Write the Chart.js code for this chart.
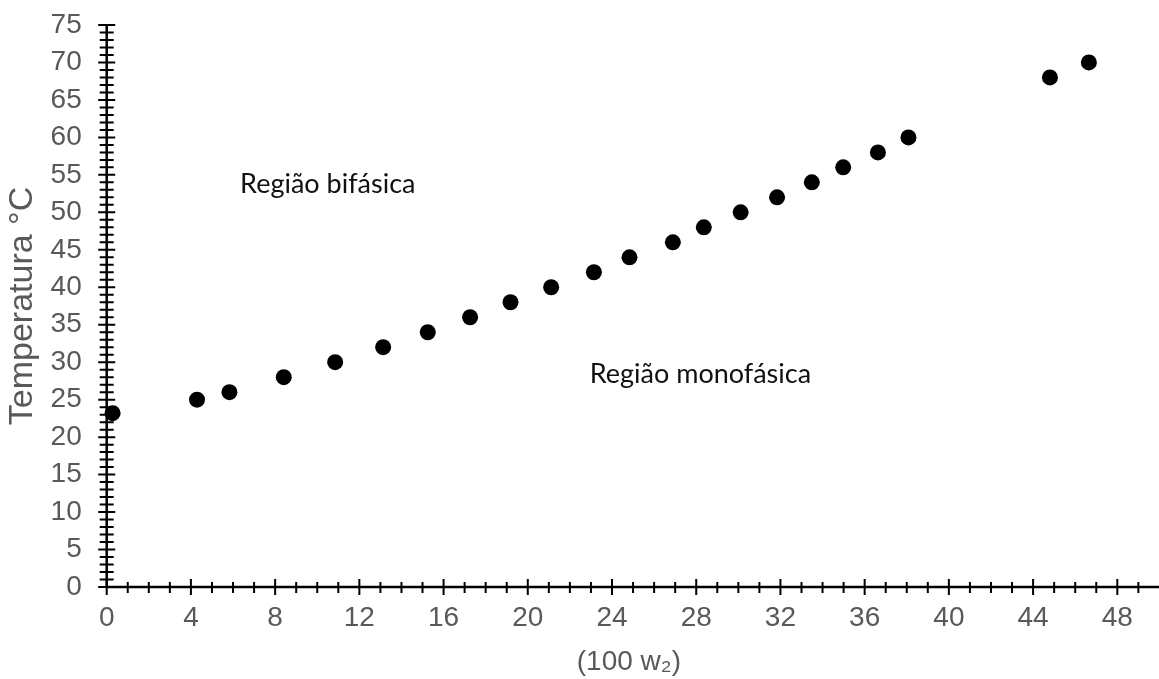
<!DOCTYPE html>
<html>
<head>
<meta charset="utf-8">
<script src="https://cdn.jsdelivr.net/npm/chart.js@4"></script>
<style>
  html, body { margin: 0; padding: 0; background: #fff; overflow: hidden; }
  #wrap { width: 1159px; height: 679px; position: relative; }
</style>
</head>
<body>
<div id="wrap"><canvas id="chart"></canvas></div>
<script>
// composition (100 w2) and temperature of the phase boundary
const composition = [0.28, 4.29, 5.83, 8.41, 10.85, 13.13, 15.25, 17.26, 19.18, 21.11, 23.14,
                     24.83, 26.89, 28.36, 30.11, 31.84, 33.49, 34.98, 36.63, 38.08, 44.8, 46.65];
const temperature = [23.2, 25, 26, 28, 30, 32, 34, 36, 38, 40, 42,
                     44, 46, 48, 50, 52, 54, 56, 58, 60, 68, 70];

const xTicks = [0, 4, 8, 12, 16, 20, 24, 28, 32, 36, 40, 44, 48];
const yTicks = [0, 5, 10, 15, 20, 25, 30, 35, 40, 45, 50, 55, 60, 65, 70, 75];

const regionLabels = [
    { text: 'Região bifásica', x: 10.5, y: 52.6 },
    { text: 'Região monofásica', x: 28.2, y: 27.2 }
];

const tickFont = { family: '"Liberation Sans", Arial, sans-serif', size: 28 };
const grey = '#595959';

// axes drawn by hand so tick marks cross the axis line (minor every 1 unit)
const crossAxes = {
    id: 'crossAxes',
    beforeDatasetsDraw(chart) {
        const { ctx, scales: { x, y } } = chart;
        const x0 = x.getPixelForValue(0);
        const y0 = y.getPixelForValue(0);
        ctx.save();
        ctx.strokeStyle = '#000';
        ctx.lineWidth = 2.5;
        ctx.beginPath();
        ctx.moveTo(x0, y.getPixelForValue(75));
        ctx.lineTo(x0, y0);
        ctx.moveTo(x0, y0);
        ctx.lineTo(chart.width, y0);
        ctx.stroke();

        ctx.lineWidth = 2;
        ctx.beginPath();
        for (let v = 0; v <= 75; v++) {
            const py = y.getPixelForValue(v);
            const half = v % 5 === 0 ? 8.5 : 7;
            ctx.moveTo(x0 - half, py);
            ctx.lineTo(x0 + half, py);
        }
        for (let v = 0; v <= Math.floor(x.max); v++) {
            const px = x.getPixelForValue(v);
            const up = v % 4 === 0 ? 8 : 5;
            const down = v % 4 === 0 ? 8 : 6;
            ctx.moveTo(px, y0 - up);
            ctx.lineTo(px, y0 + down);
        }
        ctx.stroke();
        ctx.restore();
    },
    afterDatasetsDraw(chart) {
        const { ctx, scales: { x, y } } = chart;
        ctx.save();
        ctx.fillStyle = '#111';
        ctx.font = '27px Lato, "Noto Sans", sans-serif';
        ctx.textAlign = 'center';
        ctx.textBaseline = 'alphabetic';
        regionLabels.forEach(l => {
            ctx.fillText(l.text, x.getPixelForValue(l.x), y.getPixelForValue(l.y));
        });
        ctx.restore();
    }
};

new Chart(document.getElementById('chart'), {
    type: 'scatter',
    data: {
        datasets: [{
            data: composition.map((c, i) => ({ x: c, y: temperature[i] })),
            backgroundColor: '#000',
            borderColor: '#000',
            borderWidth: 0,
            pointRadius: 8,
            pointHoverRadius: 8,
            clip: false
        }]
    },
    options: {
        responsive: true,
        maintainAspectRatio: false,
        animation: false,
        layout: { padding: { top: 25, right: 0, left: 0, bottom: 0 } },
        plugins: {
            legend: { display: false },
            tooltip: { enabled: false }
        },
        scales: {
            x: {
                type: 'linear',
                min: 0,
                max: 49.6,
                afterBuildTicks: s => { s.ticks = xTicks.map(v => ({ value: v })); },
                afterFit: s => { s.height = 92; },
                grid: { display: false, drawTicks: false },
                border: { display: false },
                ticks: { font: tickFont, color: grey, padding: 14, maxRotation: 0, autoSkip: false },
                title: {
                    display: true,
                    text: '(100 w₂)',
                    color: grey,
                    font: { family: '"Liberation Sans", Arial, "DejaVu Sans", sans-serif', size: 28 },
                    padding: 0
                }
            },
            y: {
                type: 'linear',
                min: 0,
                max: 75,
                afterBuildTicks: s => { s.ticks = yTicks.map(v => ({ value: v })); },
                afterFit: s => {
                    s.width = 106.7;
                    // the 75 label may overhang the top; keep the plot top fixed
                    s.paddingTop = 0;
                    s.paddingBottom = 0;
                },
                grid: { display: false, drawTicks: false },
                border: { display: false },
                ticks: { font: tickFont, color: grey, padding: 25, autoSkip: false },
                title: {
                    display: true,
                    text: 'Temperatura °C',
                    color: grey,
                    font: { family: '"Liberation Sans", Arial, sans-serif', size: 34 },
                    padding: 2
                }
            }
        }
    },
    plugins: [crossAxes]
});
</script>
</body>
</html>
